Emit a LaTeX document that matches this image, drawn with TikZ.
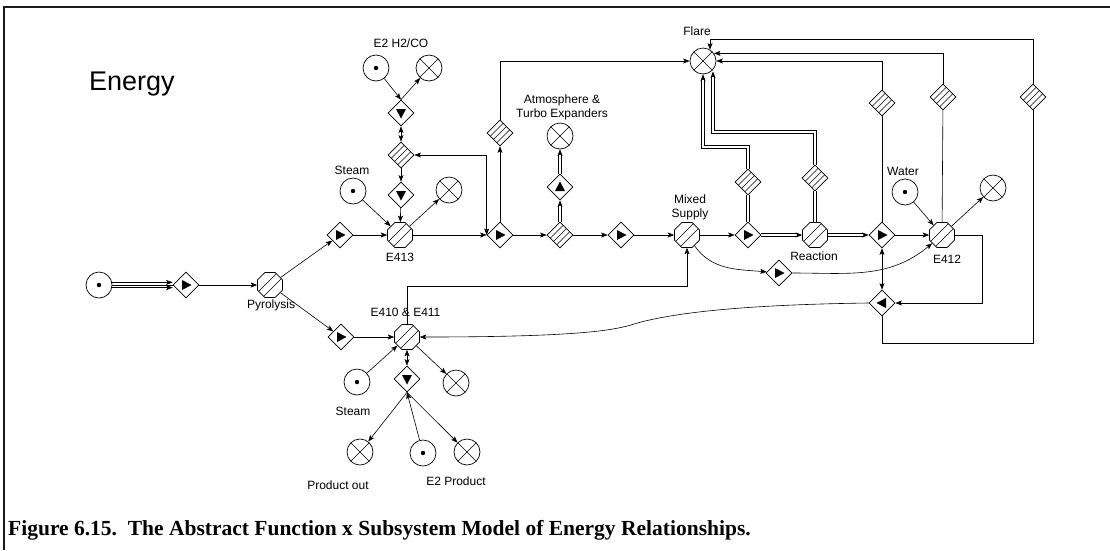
\documentclass[tikz,border=0pt]{standalone}
\usepackage{fontspec}
\setmainfont{Liberation Serif}
\setsansfont{Liberation Sans}
\usetikzlibrary{arrows.meta, positioning, shapes.geometric, calc}
\definecolor{ink}{HTML}{000000}
\definecolor{frameink}{HTML}{1A1A1A}
\tikzset{
  port/.style={
    circle, draw=ink, fill=white, line width=0.7pt,
    minimum size=26pt, inner sep=0pt
  },
  source/.style={port,
    path picture={\fill[ink] (path picture bounding box.center) circle (2.2pt);}},
  sink/.style={port,
    path picture={\draw[ink, line width=0.6pt]
      (path picture bounding box.north west) -- (path picture bounding box.south east)
      (path picture bounding box.north east) -- (path picture bounding box.south west);}},
  valve/.style={
    diamond, draw=ink, fill=white, line width=0.7pt,
    minimum size=26pt, inner sep=0pt},
  % filled triangle, three corners given as shifts from the centre
  tri/.style n args={6}{path picture={
    \coordinate (vc) at (path picture bounding box.center);
    \fill[ink] ([shift={(#1pt,#2pt)}]vc) -- ([shift={(#3pt,#4pt)}]vc) -- ([shift={(#5pt,#6pt)}]vc) -- cycle;}},
  valveR/.style={valve, tri={-4}{5}{-4}{-5}{5.5}{0}},
  valveL/.style={valve, tri={4}{5}{4}{-5}{-5.5}{0}},
  valveU/.style={valve, tri={-5}{-4}{5}{-4}{0}{5.5}},
  valveD/.style={valve, tri={-5}{4}{5}{4}{0}{-5.5}},
  store/.style={
    diamond, draw=ink, fill=white, line width=0.7pt,
    minimum size=26pt, inner sep=0pt,
    path picture={
      \coordinate (sc) at (path picture bounding box.center);
      \draw[ink, line width=0.6pt]
        ([shift={(-18.25pt,-11.75pt)}]sc) -- ([shift={(11.75pt,18.25pt)}]sc)
        ([shift={(-15pt,-15pt)}]sc) -- ([shift={(15pt,15pt)}]sc)
        ([shift={(-11.75pt,-18.25pt)}]sc) -- ([shift={(18.25pt,11.75pt)}]sc);}},
  unit/.style={
    regular polygon, regular polygon sides=8, draw=ink, fill=white, line width=0.7pt,
    minimum size=27pt, inner sep=0pt,
    path picture={
      \coordinate (uc) at (path picture bounding box.center);
      \draw[ink, line width=0.6pt]
        ([shift={(-17.5pt,-12.5pt)}]uc) -- ([shift={(12.5pt,17.5pt)}]uc)
        ([shift={(-12.5pt,-17.5pt)}]uc) -- ([shift={(17.5pt,12.5pt)}]uc);}},
  lbl/.style={font=\sffamily\fontsize{12}{14}\selectfont, inner sep=0pt, anchor=base},
  arr/.style={-{Stealth[length=6.5pt,width=5pt,inset=1.5pt]}, line width=0.6pt, draw=ink},
  biarr/.style={{Stealth[length=6.5pt,width=5pt,inset=1.5pt]}-{Stealth[length=6.5pt,width=5pt,inset=1.5pt]}, line width=0.6pt, draw=ink},
  dbl/.style={double=white, double distance=2.4pt, line width=0.55pt, draw=ink},
  frame/.style={draw=frameink, line width=1.6pt},
}

\begin{document}
\begin{tikzpicture}[x=1pt, y=-1pt]
  \useasboundingbox (0,0) rectangle (1110,550);
  \draw[frame] (1110,7) -- (4,7) -- (4,550);

  \node[anchor=base west, inner sep=0pt, font=\sffamily\fontsize{27}{31}\selectfont] (title) at (89,90) {Energy};

  % feed and pyrolysis
  \node[source] (src) at (99,285) {};
  \node[valveR] (d1) at (186,285) {};
  \node[unit] (pyro) at (270,285) {};
  \node[lbl] (pyroLbl) at (271,308) {Pyrolysis};

  % upper branch, E413
  \node[valveR] (d2) at (340,235) {};
  \node[unit] (e413) at (400,235) {};
  \node[lbl] (e413Lbl) at (400,261.5) {E413};
  \node[source] (steamA) at (353,191) {};
  \node[lbl] (steamALbl) at (352,174.5) {Steam};
  \node[sink] (x1) at (449,190) {};
  \node[valveD] (d3) at (401,195) {};
  \node[store] (h1) at (401,155) {};
  \node[valveD] (d4) at (401,113) {};
  \node[source] (e2in) at (376,68) {};
  \node[sink] (e2out) at (429,68) {};
  \node[lbl] (e2Lbl) at (401,47.5) {E2 H2/CO};

  % main line
  \node[valveR] (d5) at (500,235) {};
  \node[store] (h2) at (500,133) {};
  \node[store] (h3) at (560,235) {};
  \node[valveU] (d6) at (560,187) {};
  \node[sink] (atm) at (560,136) {};
  \node[lbl] (atmLbl) at (562,103.3) {Atmosphere \&};
  \node[lbl] (turboLbl) at (562,117.5) {Turbo Expanders};
  \node[valveR] (d7) at (621,235) {};
  \node[unit] (mix) at (687,235) {};
  \node[lbl] (mixLbl) at (690,203.3) {Mixed};
  \node[lbl] (supplyLbl) at (690,217) {Supply};
  \node[valveR] (d8) at (748,235) {};
  \node[store] (h4) at (748,182) {};
  \node[unit] (react) at (815,235) {};
  \node[lbl] (reactLbl) at (814,260) {Reaction};
  \node[store] (h5) at (815,178) {};
  \node[valveR] (d9) at (882,235) {};
  \node[store] (h6) at (882,103) {};
  \node[unit] (e412) at (942,235) {};
  \node[lbl] (e412Lbl) at (947,263.3) {E412};
  \node[source] (water) at (905,192) {};
  \node[lbl] (waterLbl) at (903,175.7) {Water};
  \node[sink] (x2) at (993,188) {};
  \node[store] (h7) at (943,97) {};
  \node[store] (h8) at (1033,97) {};
  \node[valveL] (d10) at (882,303) {};
  \node[valveR] (d11) at (779,273) {};

  % flare
  \node[sink] (flare) at (703,61) {};
  \node[lbl] (flareLbl) at (697,35) {Flare};

  % lower branch, E410 & E411
  \node[valveR] (d12) at (341,337) {};
  \node[unit] (e410) at (407,337) {};
  \node[lbl] (e410Lbl) at (405.5,316.7) {E410 \& E411};
  \node[valveD] (d13) at (407,379) {};
  \node[source] (steamB) at (357,382) {};
  \node[lbl] (steamBLbl) at (353,415) {Steam};
  \node[sink] (x3) at (456,383) {};
  \node[sink] (x4) at (360,452) {};
  \node[lbl] (x4Lbl) at (338,489) {Product out};
  \node[source] (e2p) at (423,453) {};
  \node[sink] (x5) at (467,452) {};
  \node[lbl] (e2pLbl) at (456,485.7) {E2 Product};

  % bends
  \coordinate (flA) at (703,147);
  \coordinate (flB) at (713,132);
  \coordinate (flC) at (710,39);
  \coordinate (loopSW) at (882,343);
  \coordinate (loopSE) at (1033,343);
  \coordinate (e412R) at (982,235);
  \coordinate (supplyTurn) at (687,286);
  \coordinate (kink) at (645,321);

  % connectors
  \draw[arr] ([yshift=-2.6pt]src.east) -- ([yshift=-2.6pt]d1.west);
  \draw[arr] ([yshift=2.6pt]src.east) -- ([yshift=2.6pt]d1.west);
  \draw[line width=0.6pt] (src.east) -- (d1.west);
  \draw[arr] (d1) -- (pyro);
  \draw[arr] (pyro) -- (d2);
  \draw[arr] (pyro) -- (d12);
  \draw[arr] (d2) -- (e413);
  \draw[arr] (steamA) -- (e413);
  \draw[arr] (e413) -- (x1);
  \draw[arr] (d3) -- (e413);
  \draw[arr] (h1) -- (d3);
  \draw[biarr] (d4) -- (h1);
  \draw[arr] (e2in) -- (d4.north);
  \draw[arr] (d4.north) -- (e2out);
  \draw[arr] (e413) -- (d5);
  \draw[biarr] (h1.east) -| (d5.west);
  \draw[arr] (d5) -- (h2);
  \draw[arr] (h2) |- (flare);
  \draw[arr] (d5) -- (h3);
  \draw[dbl, arr] (h3) -- (d6);
  \draw[dbl, arr] (d6) -- (atm);
  \draw[arr] (h3) -- (d7);
  \draw[arr] (d7) -- (mix);
  \draw[arr] (mix) -- (d8);
  \draw[dbl] (d8) -- (h4);
  \draw[dbl, arr] (h4) |- (flA) -- (flare);
  \draw[dbl, arr] (d8) -- (react);
  \draw[dbl] (react) -- (h5);
  \draw[dbl, arr] (h5) |- (flB) -- (flB |- flare.-52);
  \draw[dbl, arr] (react) -- (d9);
  \draw[arr] (d9) -- (e412);
  \draw[line width=0.6pt] (d9) -- (h6);
  \draw[arr] (h6) |- (flare);
  \draw[arr] (water) -- (e412);
  \draw[arr] (e412) -- (x2);
  \draw[line width=0.6pt] (e412) -- (h7);
  \draw[arr] (h7) |- (flare.35);
  \draw[line width=0.6pt] (d10) -- (loopSW) -- (loopSE) -- (h8);
  \draw[arr] (h8) |- (flC) -- (flC |- flare.58);
  \draw[biarr] (d9) -- (d10);
  \draw[arr] (e412) -- (e412R) |- (d10);
  \draw[arr] (d10.west) .. controls +(-150,2) and +(22,-5) .. (kink)
    .. controls +(-22,5) and +(200,0) .. (e410.east);
  \draw[arr] (e410) |- (supplyTurn) -- (mix);
  \draw[arr] (mix) to[out=-55, in=175] (d11);
  \draw[arr] (d11) to[out=0, in=-140] (e412);
  \draw[arr] (d12) -- (e410);
  \draw[arr] (steamB) -- (e410);
  \draw[arr] (e410) -- (x3);
  \draw[biarr] (e410) -- (d13);
  \draw[arr] (d13.south) -- (x4);
  \draw[arr] (e2p) -- (d13.south);
  \draw[arr] (d13.south) -- (x5);

  \node[anchor=base west, inner sep=0pt, font=\rmfamily\bfseries\fontsize{21.5}{25}\selectfont] (caption) at (8,535)
    {Figure 6.15.\ \ The Abstract Function x Subsystem Model of Energy Relationships.};
\end{tikzpicture}
\end{document}
